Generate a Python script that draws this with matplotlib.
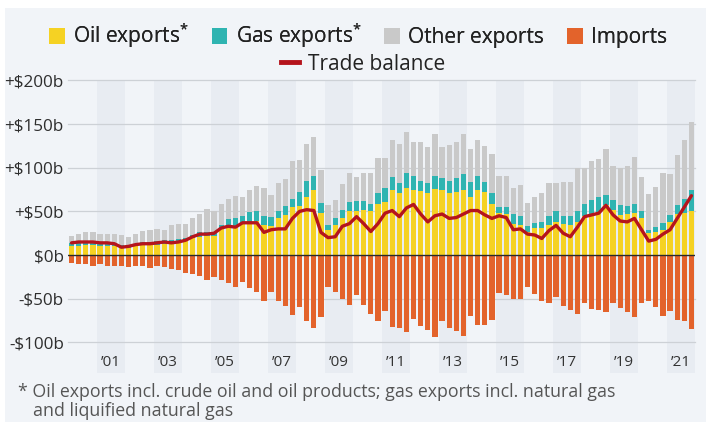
import numpy as np
import matplotlib
matplotlib.use("Agg")
import matplotlib.pyplot as plt
from matplotlib.patches import Patch, Rectangle
from matplotlib.lines import Line2D

plt.rcParams['font.family'] = ['Open Sans', 'DejaVu Sans']

# Quarterly values, $ billion, 2000 Q1 .. 2021 Q4
oil = [10, 10, 11, 11, 10, 10, 10, 8, 8, 10, 12, 12, 12, 13, 14, 15,
       16, 19, 21, 22, 22, 30, 33, 33, 36, 38, 39, 34, 33, 42, 46, 55,
       56, 67, 74, 48, 29, 34, 43, 50, 51, 52, 50, 59, 61, 74, 71, 77,
       74, 73, 71, 76, 74, 71, 72, 74, 66, 74, 72, 59, 48, 47, 36, 34,
       27, 31, 31, 34, 38, 36, 34, 38, 45, 46, 48, 57, 52, 46, 47, 48,
       42, 25, 27, 29, 38, 47, 48, 51]
gas = [4, 4, 4, 4, 4, 4, 3, 3, 3, 3, 3, 3, 4, 4, 3, 3,
       3, 4, 5, 5, 5, 5, 8, 9, 9, 11, 11, 11, 11, 8, 10, 9,
       16, 18, 16, 12, 5, 8, 9, 11, 11, 10, 8, 12, 16, 15, 12, 17,
       16, 12, 11, 14, 14, 14, 16, 19, 18, 16, 12, 12, 7, 8, 11, 11,
       6, 6, 7, 11, 12, 9, 11, 12, 14, 17, 18, 12, 11, 11, 9, 11,
       9, 4, 5, 8, 8, 10, 16, 23]
other = [8, 10, 11, 12, 10, 10, 11, 12, 10, 11, 13, 14, 14, 12, 17, 18,
         17, 19, 21, 26, 23, 24, 23, 26, 22, 26, 29, 32, 25, 32, 31, 44,
         37, 42, 45, 37, 23, 21, 29, 33, 27, 32, 36, 40, 34, 43, 44, 47,
         40, 45, 42, 49, 36, 41, 42, 46, 38, 42, 41, 45, 35, 35, 30, 35,
         27, 30, 33, 37, 33, 39, 39, 50, 41, 45, 44, 53, 39, 43, 46, 53,
         38, 41, 46, 57, 47, 58, 68, 78]
imports = [9, 10, 10, 12, 10, 12, 12, 13, 14, 13, 13, 15, 13, 14, 16, 17,
           20, 22, 24, 29, 25, 29, 32, 37, 31, 38, 42, 52, 42, 52, 58, 69,
           60, 75, 83, 71, 36, 42, 50, 57, 46, 57, 67, 75, 64, 82, 83, 88,
           73, 81, 86, 94, 75, 84, 87, 93, 70, 80, 80, 74, 43, 46, 50, 50,
           37, 45, 52, 55, 48, 58, 63, 68, 55, 62, 63, 65, 55, 61, 65, 71,
           55, 53, 59, 70, 64, 74, 76, 85]
balance = [14, 15, 15, 15, 14, 14, 13, 9, 10, 12, 13, 13, 14, 15, 14, 15,
           17, 21, 24, 24, 25, 31, 33, 32, 37, 37, 37, 26, 29, 30, 30, 42,
           50, 52, 51, 26, 20, 21, 33, 36, 44, 36, 27, 36, 48, 51, 44, 54,
           58, 47, 38, 45, 47, 42, 43, 47, 51, 51, 46, 42, 45, 43, 29, 30,
           24, 23, 19, 28, 34, 25, 21, 32, 44, 46, 48, 57, 46, 39, 38, 42,
           29, 16, 18, 24, 29, 42, 55, 68]

y_ticks = [-100, -50, 0, 50, 100, 150, 200]
y_labels = ["-$100b", "-$50b", "$0b", "+$50b", "+$100b", "+$150b", "+$200b"]
x_years = list(range(2001, 2022, 2))
x_labels = ["\u2019%02d" % (y % 100) for y in x_years]

OIL = "#f5d223"
GAS = "#2fb4b1"
OTHER = "#c9c9c9"
IMP = "#e3632b"
BAL = "#b5141c"
BG = "#f1f4f8"
BAND = "#e8ecf2"
GRID = "#cdd1d6"

oil = np.array(oil, float)
gas = np.array(gas, float)
other = np.array(other, float)
imports = np.array(imports, float)
balance = np.array(balance, float)
n = len(oil)
x = 2000 + (np.arange(n) + 0.5) / 4.0
w = 0.25 * 0.72

fig = plt.figure(figsize=(7.06, 4.26), dpi=100)
fig.patch.set_facecolor("white")
fig.add_artist(Rectangle((5 / 706, 4 / 426), 701 / 706, 414 / 426,
                         transform=fig.transFigure, facecolor=BG,
                         edgecolor="none", zorder=0))

ax = fig.add_axes([68 / 706, (426 - 373) / 426, 627 / 706, 292.6 / 426])
ax.set_facecolor(BG)
ax.set_xlim(2000, 2022)
ax.set_ylim(-135, 200)

for yr in x_years:
    ax.axvspan(yr, yr + 1, color=BAND, lw=0, zorder=0)
for v in y_ticks:
    if v != 0:
        ax.axhline(v, color=GRID, lw=0.9, zorder=1, clip_on=False)

ax.bar(x, oil, width=w, color=OIL, zorder=2, lw=0)
ax.bar(x, gas, width=w, bottom=oil, color=GAS, zorder=2, lw=0)
ax.bar(x, other, width=w, bottom=oil + gas, color=OTHER, zorder=2, lw=0)
ax.bar(x, -imports, width=w, color=IMP, zorder=2, lw=0)
ax.axhline(0, color="#2a2a2a", lw=1.0, zorder=4)
ax.plot(x, balance, color=BAL, lw=2.4, zorder=5, solid_joinstyle="round",
        solid_capstyle="round")

for s in ax.spines.values():
    s.set_visible(False)
ax.set_yticks(y_ticks)
ax.set_yticklabels(y_labels, fontsize=12.3, color="#2e2e2e")
ax.tick_params(axis="y", length=0, pad=3)
ax.set_xticks([y + 0.5 for y in x_years])
ax.set_xticklabels(x_labels, fontsize=11, color="#333333")
ax.tick_params(axis="x", length=0, pad=-13)

star = r"$^{\mathregular{*}}$"
handles = [Patch(facecolor=OIL, label="Oil exports" + star),
           Patch(facecolor=GAS, label="Gas exports" + star),
           Patch(facecolor=OTHER, label="Other exports"),
           Patch(facecolor=IMP, label="Imports")]
leg1 = fig.legend(handles=handles, loc="center",
                  bbox_to_anchor=(358 / 706, (426 - 36) / 426), ncol=4,
                  frameon=False, fontsize=15, handlelength=0.75,
                  handleheight=0.75, handletextpad=0.4, columnspacing=1.1,
                  labelcolor="#222222")
fig.add_artist(leg1)
fig.legend(handles=[Line2D([], [], color=BAL, lw=3.5, label="Trade balance")],
           loc="center", bbox_to_anchor=(363 / 706, (426 - 64) / 426),
           frameon=False, fontsize=15, handlelength=0.85, handletextpad=0.45,
           labelcolor="#222222")

fig.text(18 / 706, (426 - 392) / 426,
         "* Oil exports incl. crude oil and oil products; gas exports incl. natural gas",
         fontsize=12.8, color="#555555", va="center", ha="left")
fig.text(33 / 706, (426 - 411) / 426, "and liquified natural gas",
         fontsize=12.8, color="#555555", va="center", ha="left")

fig.savefig("out.png", dpi=100, facecolor="white")
